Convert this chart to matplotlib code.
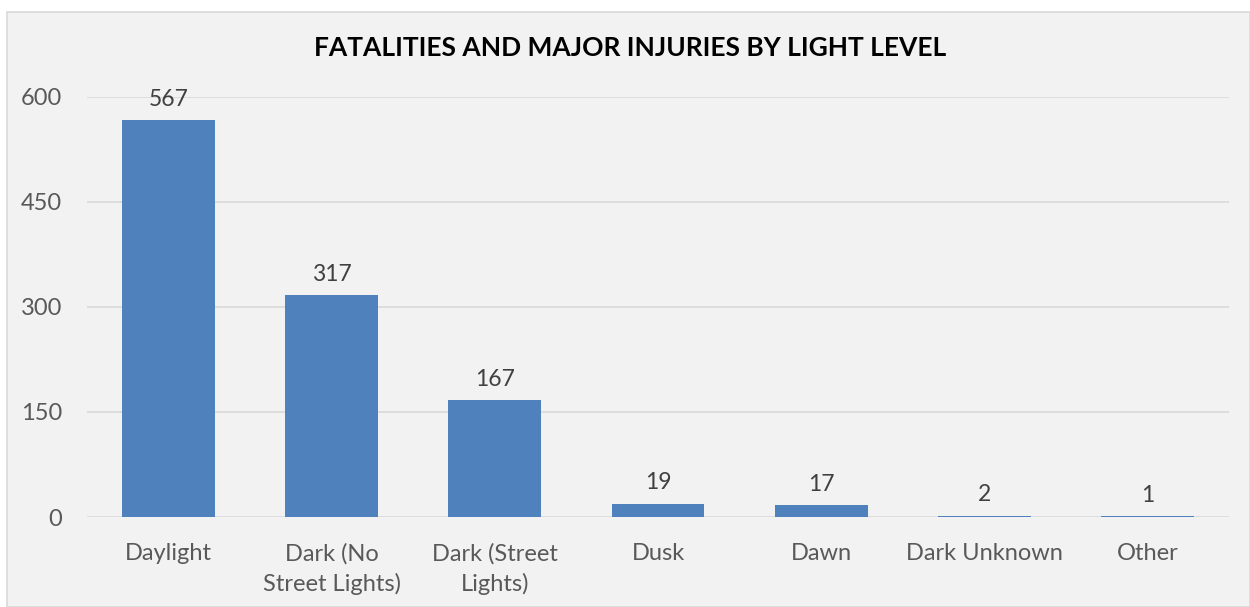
import matplotlib
matplotlib.use("Agg")
import matplotlib.pyplot as plt
from matplotlib.patches import Rectangle

# fatalities and major injuries per light condition
categories = ["Daylight", "Dark (No\nStreet Lights)", "Dark (Street\nLights)",
              "Dusk", "Dawn", "Dark Unknown", "Other"]
counts = [567, 317, 167, 19, 17, 2, 1]
y_ticks = [0, 150, 300, 450, 600]

plt.rcParams['font.family'] = ['Lato', 'DejaVu Sans']

fig = plt.figure(figsize=(12.5, 6.07), dpi=100, facecolor='white')

# chart area panel with light border, kept behind the axes
fig.patches.append(Rectangle((7 / 1250, 0), 1 - 7 / 1250, 1 - 12 / 607,
                             transform=fig.transFigure, facecolor='#F2F2F2',
                             edgecolor='#D9D9D9', linewidth=1.2, zorder=-5))

ax = fig.add_axes([87 / 1250, 1 - 517 / 607, (1229 - 87) / 1250, 420 / 607])
ax.set_facecolor('none')

x = range(len(categories))
bars = ax.bar(x, counts, width=0.57, color='#4F81BD', zorder=3)

for b, v in zip(bars, counts):
    ax.text(b.get_x() + b.get_width() / 2, v + 15, str(v),
            ha='center', va='bottom', fontsize=16.5, color='#404040')

ax.set_xlim(-0.5, len(categories) - 0.5)
ax.set_ylim(0, 600)
ax.set_yticks(y_ticks)
ax.set_yticklabels([str(t) for t in y_ticks])
ax.set_xticks(list(x))
ax.set_xticklabels(categories, linespacing=1.45)
ax.tick_params(axis='both', length=0, labelsize=17, labelcolor='#595959')
ax.tick_params(axis='y', pad=18)
ax.tick_params(axis='x', pad=19)

ax.grid(axis='y', color='#D9D9D9', linewidth=1.2, zorder=0)
for s in ax.spines.values():
    s.set_visible(False)

fig.text(630 / 1250, 1 - 48 / 607, "FATALITIES AND MAJOR INJURIES BY LIGHT LEVEL",
         ha='center', va='center', fontsize=19, fontweight='bold', color='black')

fig.savefig("out.png", dpi=100, facecolor='white')
